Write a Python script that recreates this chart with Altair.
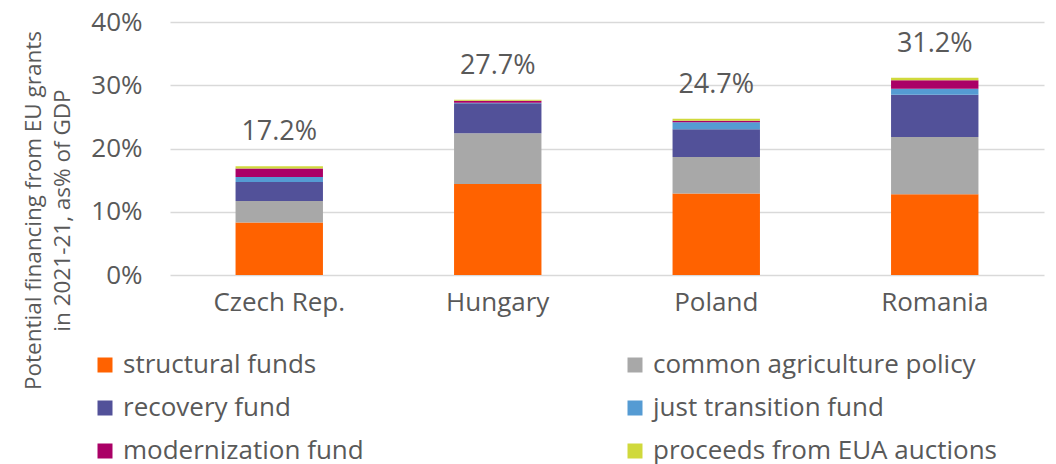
import altair as alt
import pandas as pd

countries = ["Czech Rep.", "Hungary", "Poland", "Romania"]
components = ["structural funds", "common agriculture policy", "recovery fund",
              "just transition fund", "modernization fund", "proceeds from EUA auctions"]
colors = ["#FF6200", "#A8A8A8", "#525199", "#559BD3", "#AA0066", "#D0D93C"]

structural = [8.3, 14.4, 12.9, 12.75]
agriculture = [3.4, 8.0, 5.75, 9.05]
recovery = [3.0, 4.75, 4.4, 6.7]
just_transition = [0.8, 0.1, 1.1, 0.95]
modernization = [1.35, 0.3, 0.25, 1.35]
eua = [0.35, 0.15, 0.3, 0.4]
totals = [17.2, 27.7, 24.7, 31.2]

series = [structural, agriculture, recovery, just_transition, modernization, eua]
rows = []
for ci, comp in enumerate(components):
    for k, c in enumerate(countries):
        rows.append({"country": c, "component": comp, "idx": ci, "value": series[ci][k] / 100})
df = pd.DataFrame(rows)
tot = pd.DataFrame({"country": countries, "total": [t / 100 for t in totals],
                    "label": [f"{t:.1f}%" for t in totals]})

FONT = "Open Sans"
TXT = "#595959"

xenc = alt.X("country:N", sort=countries, title=None,
             scale=alt.Scale(paddingInner=0.6, paddingOuter=0.3),
             axis=alt.Axis(labelAngle=0, labelFontSize=26, labelColor=TXT, labelFont=FONT,
                           ticks=False, domain=False, labelPadding=14))

bars = alt.Chart(df).mark_bar().encode(
    x=xenc,
    y=alt.Y("value:Q", stack="zero", title=["Potential financing from EU grants", "in 2021-21, as% of GDP"],
            scale=alt.Scale(domain=[0, 0.4]),
            axis=alt.Axis(format=".0%", values=[0, 0.1, 0.2, 0.3, 0.4], labelFontSize=26,
                          labelColor=TXT, labelFont=FONT, ticks=False, domain=False,
                          labelPadding=28, gridColor="#D9D9D9", gridWidth=1.5,
                          titleFontSize=22.5, titleFont=FONT, titleColor=TXT, titleFontWeight="normal",
                          titleAngle=270, titleX=-125, titleY=188, titleAlign="center",
                          titleBaseline="bottom", titleLineHeight=29)),
    color=alt.Color("component:N", sort=components,
                    scale=alt.Scale(domain=components, range=colors),
                    legend=alt.Legend(title=None, orient="none", legendX=-78, legendY=330,
                                      direction="horizontal",
                                      columns=2, columnPadding=258, rowPadding=17,
                                      symbolType="square", symbolSize=225, symbolStrokeWidth=0,
                                      labelFontSize=26, labelFont=FONT, labelColor=TXT,
                                      labelOffset=5, labelLimit=500)),
    order=alt.Order("idx:Q", sort="ascending"),
)

labels = alt.Chart(tot).mark_text(fontSize=27, font=FONT, color=TXT, baseline="alphabetic", dy=-26).encode(
    x=alt.X("country:N", sort=countries),
    y=alt.Y("total:Q"),
    text="label:N",
)

chart = alt.layer(bars, labels).properties(
    width=874, height=253,
    autosize=alt.AutoSizeParams(type="none"),
    padding={"left": 162, "top": 14, "right": 4, "bottom": 189},
).configure_view(stroke=None)

chart.save("out.html", embed_options={"renderer": "svg", "actions": False})
